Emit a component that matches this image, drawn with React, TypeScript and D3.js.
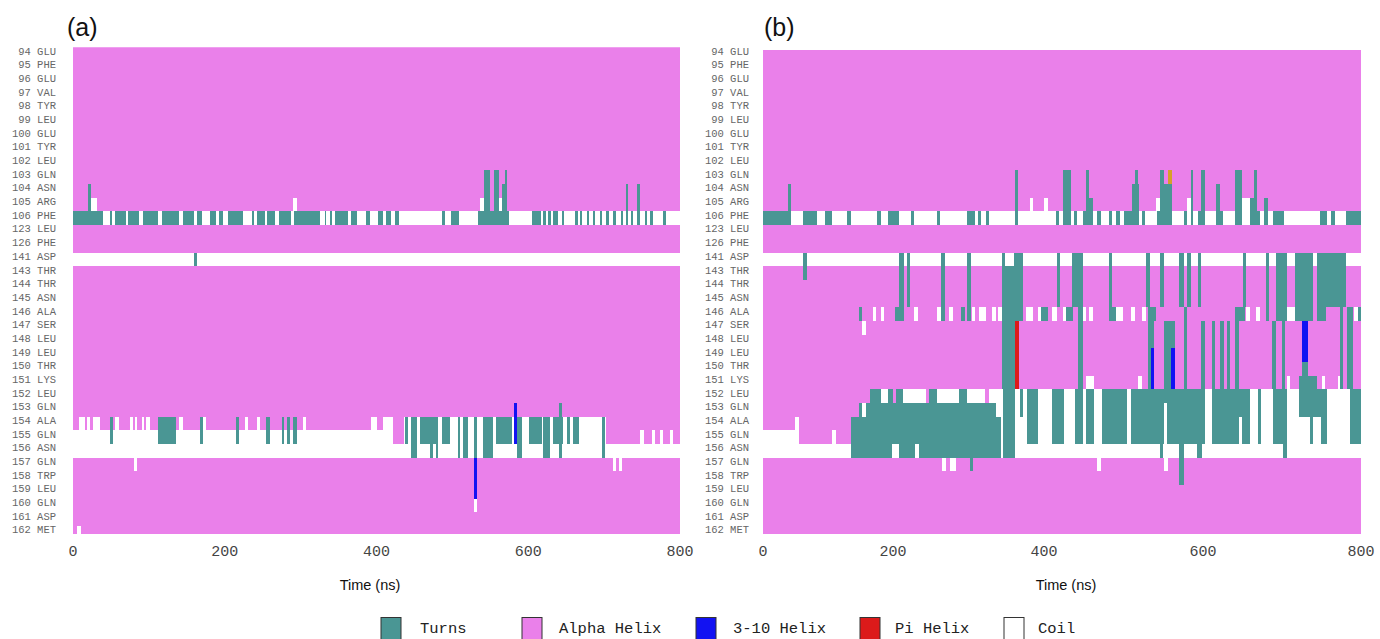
import React from "react";
import * as d3 from "d3";

type Seg = [number, number, number, number, string];

const residues = [
  "94 GLU", "95 PHE", "96 GLU", "97 VAL", "98 TYR", "99 LEU", "100 GLU", "101 TYR", "102 LEU",
  "103 GLN", "104 ASN", "105 ARG", "106 PHE", "123 LEU", "126 PHE", "141 ASP", "143 THR",
  "144 THR", "145 ASN", "146 ALA", "147 SER", "148 LEU", "149 LEU", "150 THR", "151 LYS",
  "152 LEU", "153 GLN", "154 ALA", "155 GLN", "156 ASN", "157 GLN", "158 TRP", "159 LEU",
  "160 GLN", "161 ASP", "162 MET",
];

const timeTicks = [0, 200, 400, 600, 800];

const stateColors: Record<string, string> = {
  T: "#4a9694",
  A: "#ea80ea",
  H: "#1212f2",
  P: "#dc1a1a",
  C: "#ffffff",
  O: "#d6a028",
};

const legendItems: [string, string][] = [
  ["T", "Turns"],
  ["A", "Alpha Helix"],
  ["H", "3-10 Helix"],
  ["P", "Pi Helix"],
  ["C", "Coil"],
];

// default state of each residue row (same order as residues)
const baseA = "AAAAAAAAAAAACAACAAAAAAAAAAAACCAAAAAA".split("");
const baseB = "AAAAAAAAAAAACAACAAAAAAAAACCCCCAAAAAA".split("");

// turns of 106 PHE (ns)
const turns106A: [number, number][] = [
  [0, 40], [49, 52], [55, 70], [73, 87], [92, 112], [117, 140], [145, 159], [163, 170], [180, 189],
  [193, 198], [204, 224], [236, 239], [243, 253], [256, 266], [271, 287], [291, 326], [332, 334],
  [339, 341], [345, 363], [367, 374], [386, 391], [402, 408], [413, 419], [424, 429], [486, 490],
  [498, 509], [534, 574], [605, 617], [619, 623], [626, 630], [633, 639], [644, 647], [662, 665],
  [668, 671], [677, 680], [685, 688], [695, 697], [703, 706], [712, 715], [722, 725], [730, 731],
  [736, 738], [743, 747], [754, 756], [761, 765], [778, 782],
];
const turns106B: [number, number][] = [
  [0, 43], [61, 83], [96, 106], [129, 135], [176, 181], [193, 208], [224, 228], [258, 262],
  [298, 308], [312, 317], [323, 327], [362, 366], [415, 419], [424, 434], [438, 442], [449, 461],
  [467, 472], [482, 486], [491, 495], [500, 518], [523, 527], [542, 561], [576, 580], [585, 588],
  [594, 602], [616, 625], [641, 649], [659, 672], [677, 682], [688, 702], [748, 757], [762, 767],
  [781, 800],
];

// [fromResidue, toResidue, startNs, endNs, state]
const segsA: Seg[] = [
  [103, 106, 542, 549, "T"], [103, 106, 555, 561, "T"], [104, 106, 565, 569, "T"], [103, 106, 569, 572, "T"],
  [104, 105, 20, 24, "T"], [105, 105, 24, 32, "C"], [105, 105, 290, 295, "C"], [105, 105, 537, 542, "C"],
  [105, 105, 561, 565, "C"], [104, 106, 729, 731, "T"], [104, 106, 743, 747, "T"],
  [141, 141, 160, 163, "T"],
  [154, 154, 8, 16, "C"], [154, 154, 19, 22, "C"], [154, 154, 27, 36, "C"], [154, 154, 55, 60, "C"],
  [154, 154, 75, 79, "C"], [154, 154, 82, 85, "C"], [154, 154, 91, 94, "C"], [154, 154, 96, 101, "C"],
  [154, 154, 140, 145, "C"], [154, 154, 171, 175, "C"], [154, 154, 227, 231, "C"], [154, 154, 242, 247, "C"],
  [154, 154, 303, 307, "C"], [154, 154, 393, 400, "C"], [154, 154, 409, 422, "C"], [154, 154, 436, 703, "C"],
  [155, 155, 422, 436, "A"], [155, 155, 703, 800, "A"], [155, 155, 747, 752, "C"], [155, 155, 763, 767, "C"],
  [155, 155, 774, 778, "C"], [155, 155, 787, 791, "C"],
  [154, 155, 49, 53, "T"], [154, 155, 112, 136, "T"], [154, 155, 167, 171, "T"], [154, 155, 215, 219, "T"],
  [154, 155, 255, 259, "T"], [154, 155, 275, 278, "T"], [154, 155, 282, 286, "T"], [154, 155, 290, 295, "T"],
  [154, 155, 438, 442, "T"], [154, 156, 445, 454, "T"], [154, 155, 457, 481, "T"], [156, 156, 470, 475, "T"],
  [156, 156, 479, 481, "T"], [154, 155, 486, 497, "T"], [154, 156, 507, 510, "T"], [154, 156, 514, 521, "T"],
  [154, 156, 529, 532, "T"], [154, 156, 541, 554, "T"], [154, 155, 558, 578, "T"], [154, 156, 585, 592, "T"],
  [154, 155, 601, 618, "T"], [154, 156, 620, 629, "T"], [154, 155, 633, 646, "T"], [154, 155, 651, 655, "T"],
  [154, 155, 659, 667, "T"], [154, 156, 697, 701, "T"],
  [153, 155, 581, 585, "H"], [153, 156, 640, 644, "T"],
  [157, 159, 529, 533, "H"], [160, 160, 529, 533, "C"],
  [157, 157, 80, 84, "C"], [157, 157, 712, 716, "C"], [157, 157, 720, 724, "C"],
  [162, 162, 5, 11, "C"],
];

const segsB: Seg[] = [
  [104, 106, 38, 43, "T"], [103, 106, 362, 366, "T"], [103, 106, 424, 434, "T"], [103, 106, 453, 457, "T"],
  [105, 106, 457, 462, "T"], [103, 103, 514, 518, "T"], [104, 106, 511, 519, "T"], [103, 106, 546, 551, "T"],
  [104, 106, 551, 561, "T"], [103, 103, 556, 561, "O"], [103, 106, 585, 588, "T"], [103, 106, 597, 602, "T"],
  [104, 106, 616, 621, "T"], [103, 106, 641, 649, "T"], [103, 106, 664, 668, "T"], [105, 106, 659, 664, "T"],
  [105, 106, 677, 682, "T"],
  [105, 105, 381, 385, "C"], [105, 105, 400, 405, "C"], [105, 105, 541, 546, "C"], [105, 105, 580, 585, "C"],
  [105, 105, 649, 659, "C"],
  [141, 143, 61, 67, "T"], [141, 145, 208, 214, "T"], [146, 146, 203, 214, "T"], [141, 145, 218, 223, "T"],
  [141, 146, 264, 269, "T"], [141, 146, 298, 303, "T"], [141, 151, 344, 349, "T"], [143, 146, 349, 360, "T"],
  [141, 146, 360, 372, "T"], [147, 151, 349, 362, "T"], [147, 151, 362, 367, "P"],
  [141, 145, 416, 420, "T"], [141, 145, 435, 449, "T"], [146, 151, 443, 449, "T"], [141, 146, 482, 486, "T"],
  [141, 145, 528, 533, "T"], [146, 146, 531, 541, "T"], [147, 148, 531, 538, "T"], [149, 151, 531, 534, "T"],
  [149, 151, 534, 538, "H"], [141, 145, 546, 551, "T"], [147, 148, 551, 565, "T"], [149, 151, 551, 560, "T"],
  [149, 151, 560, 565, "H"], [141, 145, 570, 576, "T"], [146, 151, 576, 580, "T"], [141, 145, 580, 585, "T"],
  [141, 145, 594, 598, "T"], [147, 151, 598, 603, "T"], [147, 151, 611, 615, "T"], [147, 151, 622, 626, "T"],
  [147, 151, 630, 634, "T"], [146, 151, 641, 645, "T"], [146, 146, 645, 653, "T"], [141, 145, 651, 655, "T"],
  [141, 146, 680, 683, "T"], [147, 151, 687, 692, "T"], [141, 146, 692, 706, "T"], [147, 151, 700, 704, "T"],
  [141, 146, 716, 739, "T"], [147, 149, 725, 733, "H"], [150, 150, 725, 733, "T"], [151, 151, 721, 744, "T"],
  [141, 145, 744, 781, "T"], [146, 146, 744, 756, "T"], [146, 151, 773, 777, "T"], [146, 151, 782, 790, "T"],
  [146, 146, 796, 800, "T"],
  [146, 146, 147, 153, "T"], [146, 146, 169, 174, "C"], [146, 146, 181, 186, "C"], [146, 146, 228, 233, "C"],
  [146, 146, 258, 264, "C"], [146, 146, 274, 279, "C"], [146, 146, 290, 295, "T"], [146, 146, 304, 308, "C"],
  [146, 146, 314, 323, "C"], [146, 146, 331, 336, "C"], [146, 146, 339, 344, "C"], [146, 146, 376, 385, "C"],
  [146, 146, 392, 396, "C"], [146, 146, 396, 405, "T"], [146, 146, 410, 416, "C"], [146, 146, 424, 428, "C"],
  [146, 146, 428, 437, "T"], [146, 146, 449, 453, "C"], [146, 146, 457, 462, "C"], [146, 146, 482, 491, "T"],
  [146, 146, 491, 499, "C"], [146, 146, 509, 514, "C"], [146, 146, 523, 528, "C"], [146, 146, 655, 659, "C"],
  [146, 146, 667, 672, "C"], [146, 146, 706, 716, "C"], [146, 146, 791, 796, "C"],
  [147, 147, 153, 159, "C"],
  [151, 151, 453, 463, "C"], [151, 151, 518, 523, "C"], [151, 151, 706, 710, "C"], [151, 151, 750, 754, "C"],
  [151, 151, 771, 776, "C"],
  [152, 152, 0, 165, "A"], [152, 152, 200, 204, "A"], [152, 152, 244, 248, "A"], [152, 152, 322, 327, "A"],
  [152, 152, 165, 181, "T"], [152, 152, 193, 200, "T"], [152, 152, 204, 213, "T"], [152, 152, 248, 258, "T"],
  [152, 152, 288, 298, "T"],
  [153, 153, 0, 147, "A"], [153, 153, 147, 153, "T"], [153, 153, 158, 337, "T"],
  [154, 154, 0, 49, "A"], [154, 154, 55, 136, "A"], [154, 154, 136, 343, "T"],
  [155, 155, 55, 106, "A"], [155, 155, 112, 136, "A"], [155, 155, 136, 343, "T"],
  [156, 156, 136, 199, "T"], [156, 156, 208, 229, "T"], [156, 156, 234, 343, "T"],
  [152, 156, 346, 362, "T"], [152, 153, 368, 372, "T"], [152, 155, 377, 392, "T"], [152, 155, 410, 425, "T"],
  [152, 155, 439, 449, "T"], [152, 155, 453, 463, "T"], [152, 155, 473, 505, "T"], [152, 155, 510, 551, "T"],
  [152, 152, 551, 555, "T"], [156, 156, 546, 550, "T"], [152, 155, 555, 602, "T"], [156, 156, 593, 599, "T"],
  [152, 158, 570, 576, "T"], [152, 155, 612, 645, "T"], [152, 153, 645, 649, "T"], [152, 155, 649, 659, "T"],
  [152, 155, 669, 673, "T"], [152, 155, 688, 702, "T"], [152, 156, 701, 706, "T"], [152, 153, 721, 757, "T"],
  [154, 155, 735, 739, "T"], [154, 155, 749, 757, "T"], [152, 155, 786, 800, "T"],
  [157, 157, 265, 270, "C"], [157, 157, 275, 284, "C"], [157, 157, 302, 306, "T"], [157, 157, 467, 472, "C"],
  [157, 157, 551, 556, "C"],
];

const resNum = (l: string) => +l.split(" ")[0];
const prio = (s: string) => (s === "C" || s === "A" ? 0 : s === "T" ? 1 : 2);

const ROW_TOP = 47.3;
const ROW_H = 13.68;
const PLOT_BOTTOM = 534;

interface PanelProps {
  id: string;
  base: string[];
  segs: Seg[];
  turns106: [number, number][];
  xs: d3.ScaleLinear<number, number>;
  top: number;
  labelX: number;
  title: string;
  titleX: number;
  axisTitleX: number;
}

function Panel({ id, base, segs, turns106, xs, top, labelX, title, titleX, axisTitleX }: PanelProps) {
  const ys = d3
    .scaleBand<string>()
    .domain(residues)
    .range([ROW_TOP, ROW_TOP + residues.length * ROW_H])
    .padding(0);
  const bw = ys.bandwidth();
  const x0 = xs(0);
  const x1 = xs(800);

  type R = { r: string; t0: number; t1: number; s: string; p: number };
  const rects: R[] = [];
  base.forEach((s, i) => rects.push({ r: residues[i], t0: 0, t1: 800, s, p: -1 }));
  const extra: R[] = [];
  turns106.forEach(([t0, t1]) => extra.push({ r: "106 PHE", t0, t1, s: "T", p: 1 }));
  segs.forEach(([a, b, t0, t1, s]) => {
    residues
      .filter((l) => resNum(l) >= a && resNum(l) <= b)
      .forEach((l) => extra.push({ r: l, t0, t1, s, p: prio(s) }));
  });
  const sorted = extra.map((e, i) => ({ e, i })).sort((u, v) => u.e.p - v.e.p || u.i - v.i).map((o) => o.e);
  const all = rects.concat(sorted);

  return (
    <g>
      <defs>
        <clipPath id={id}>
          <rect x={x0} y={top} width={x1 - x0} height={PLOT_BOTTOM - top} />
        </clipPath>
      </defs>
      <g clipPath={`url(#${id})`} shapeRendering="crispEdges">
        {all.map((d, i) => (
          <rect
            key={i}
            x={xs(d.t0)}
            y={ys(d.r)!}
            width={Math.max(0, xs(d.t1) - xs(d.t0))}
            height={bw}
            fill={stateColors[d.s]}
          />
        ))}
      </g>
      {residues.map((l) => (
        <text
          key={l}
          x={labelX}
          y={ys(l)! + bw / 2 - 2.5}
          textAnchor="end"
          dominantBaseline="central"
          fontFamily="'Liberation Mono', 'DejaVu Sans Mono', monospace"
          fontSize={10.5}
          fill="#666"
        >
          {l}
        </text>
      ))}
      {timeTicks.map((t) => (
        <text
          key={t}
          x={xs(t)}
          y={556}
          textAnchor="middle"
          fontFamily="'Liberation Mono', 'DejaVu Sans Mono', monospace"
          fontSize={15}
          fill="#444"
        >
          {t}
        </text>
      ))}
      <text x={axisTitleX} y={590} textAnchor="middle" fontFamily="'Liberation Sans', Arial, sans-serif" fontSize={14.5} fill="#111">
        Time (ns)
      </text>
      <text x={titleX} y={36} fontFamily="'Liberation Sans', Arial, sans-serif" fontSize={25} fill="#111">
        {title}
      </text>
    </g>
  );
}

export default function App() {
  const xa = d3.scaleLinear().domain([0, 800]).range([73, 680]);
  const xb = d3.scaleLinear().domain(timeTicks).range([763, 893, 1044, 1203, 1361]);
  const swatchX = [381, 522, 696, 860, 1004];
  const labelDX = [39, 37, 37, 35, 34];
  return (
    <svg
      width={1380}
      height={639}
      style={{ position: "absolute", left: 0, top: 0, display: "block", background: "#fff" }}
    >
      <Panel id="clipA" base={baseA} segs={segsA} turns106={turns106A} xs={xa} top={47.3} labelX={56} title="(a)" titleX={67} axisTitleX={370} />
      <Panel id="clipB" base={baseB} segs={segsB} turns106={turns106B} xs={xb} top={50} labelX={749} title="(b)" titleX={764} axisTitleX={1066} />
      {legendItems.map(([s, name], i) => (
        <g key={s}>
          <rect x={swatchX[i]} y={617.5} width={20} height={24} fill={stateColors[s]} stroke="#333" strokeWidth={1} />
          <text
            x={swatchX[i] + labelDX[i]}
            y={633}
            fontFamily="'Liberation Mono', 'DejaVu Sans Mono', monospace"
            fontSize={15.5}
            fill="#222"
          >
            {name}
          </text>
        </g>
      ))}
    </svg>
  );
}
